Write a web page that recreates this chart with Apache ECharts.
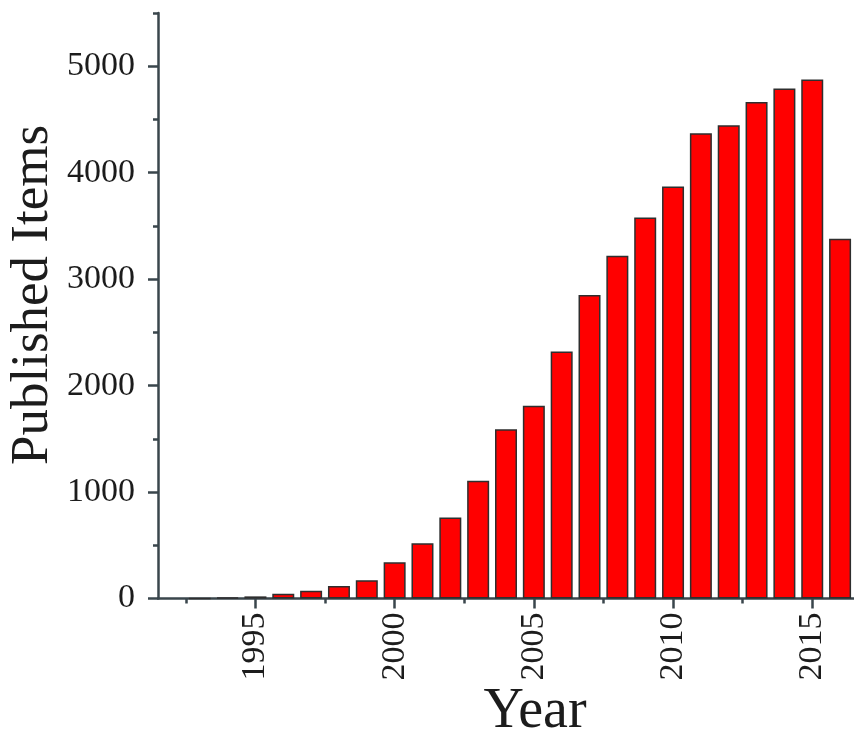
<!DOCTYPE html>
<html>
<head>
<meta charset="utf-8">
<script src="https://cdn.jsdelivr.net/npm/echarts@6/dist/echarts.min.js"></script>
<style>
  html, body { margin: 0; padding: 0; background: #fff; }
  #chart { width: 854px; height: 731px; }
</style>
</head>
<body>
<div id="chart"></div>
<script>
// Publications per year
const years = [1993, 1994, 1995, 1996, 1997, 1998, 1999, 2000, 2001, 2002, 2003, 2004,
               2005, 2006, 2007, 2008, 2009, 2010, 2011, 2012, 2013, 2014, 2015, 2016];
const items = [2, 8, 20, 45, 73, 117, 172, 340, 520, 760, 1105, 1590,
               1810, 2320, 2850, 3220, 3580, 3870, 4370, 4445, 4665, 4790, 4875, 3380];

// Tick positions
const yearLabels = [1995, 2000, 2005, 2010, 2015];
const yearMinorTicks = [1992.5, 1997.5, 2002.5, 2007.5, 2012.5];
const countLabels = [0, 1000, 2000, 3000, 4000, 5000];
const countMinorTicks = [500, 1500, 2500, 3500, 4500, 5500];

const serif = 'Liberation Serif';
const axisColor = '#3a464c';
const textColor = '#1c1c1c';

const chart = echarts.init(document.getElementById('chart'), null, { renderer: 'canvas' });

const xBase = { type: 'value', min: 1991.5, max: 2016.5, position: 'bottom', offset: 0, splitLine: { show: false } };
const yBase = { type: 'value', min: 0, max: 5500, position: 'left', offset: 0, splitLine: { show: false } };

chart.setOption({
  animation: false,
  backgroundColor: '#ffffff',
  grid: { left: 158, top: 13, width: 697, height: 585.5 },
  xAxis: [
    Object.assign({}, xBase, {
      axisLine: { show: true, lineStyle: { color: axisColor, width: 2.5 } },
      axisTick: { show: true, customValues: yearLabels, length: 10, inside: false,
                  lineStyle: { color: axisColor, width: 2.5 } },
      axisLabel: { show: true, customValues: yearLabels, rotate: 90, margin: 14,
                   fontFamily: serif, fontSize: 34, color: textColor,
                   formatter: v => String(v) }
    }),
    Object.assign({}, xBase, {
      axisLine: { show: false },
      axisTick: { show: true, customValues: yearMinorTicks, length: 5, inside: false,
                  lineStyle: { color: axisColor, width: 2.5 } },
      axisLabel: { show: false }
    })
  ],
  yAxis: [
    Object.assign({}, yBase, {
      axisLine: { show: true, lineStyle: { color: axisColor, width: 2.5 } },
      axisTick: { show: true, customValues: countLabels, length: 10, inside: false,
                  lineStyle: { color: axisColor, width: 2.5 } },
      axisLabel: { show: true, customValues: countLabels, margin: 23,
                   fontFamily: serif, fontSize: 34, color: textColor,
                   formatter: v => String(v) }
    }),
    Object.assign({}, yBase, {
      axisLine: { show: false },
      axisTick: { show: true, customValues: countMinorTicks, length: 5, inside: false,
                  lineStyle: { color: axisColor, width: 2.5 } },
      axisLabel: { show: false }
    })
  ],
  series: [{
    type: 'bar',
    xAxisIndex: 0,
    yAxisIndex: 0,
    barWidth: 22,
    data: years.map((y, i) => [y, items[i]]),
    itemStyle: { color: '#ff0000', borderColor: '#2e2e2e', borderWidth: 1.5 }
  }],
  graphic: [
    {
      type: 'text',
      x: 535, y: 712,
      style: { text: 'Year', fontFamily: serif, fontSize: 56, fill: textColor,
               align: 'center', verticalAlign: 'middle' }
    },
    {
      type: 'text',
      x: 33, y: 295,
      rotation: Math.PI / 2,
      style: { text: 'Published Items', fontFamily: serif, fontSize: 53, fill: textColor,
               align: 'center', verticalAlign: 'middle' }
    }
  ]
});
</script>
</body>
</html>
